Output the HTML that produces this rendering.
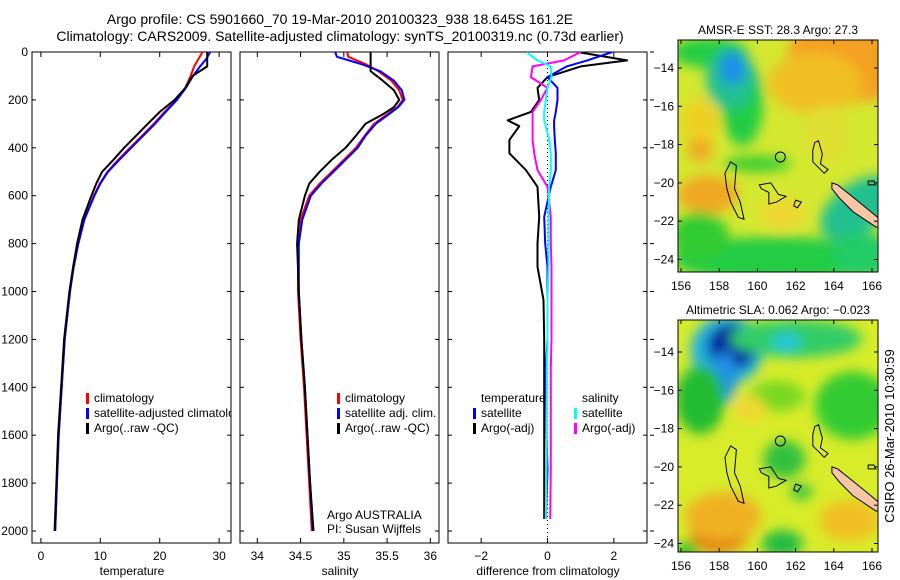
<!DOCTYPE html>
<html><head><meta charset="utf-8"><style>
html,body{margin:0;padding:0;background:#fff;}
svg{display:block;font-family:"Liberation Sans",sans-serif;}
</style></head><body>
<svg id="fig" width="900" height="580" viewBox="0 0 900 580" xmlns="http://www.w3.org/2000/svg">
<defs>
<clipPath id="c1"><rect x="32" y="52" width="199" height="491"/></clipPath>
<clipPath id="c2"><rect x="240" y="52" width="199" height="491"/></clipPath>
<clipPath id="c3"><rect x="448" y="52" width="199" height="491"/></clipPath>
<clipPath id="m1"><rect x="678" y="40" width="200" height="232"/></clipPath>
<clipPath id="m2"><rect x="678" y="320" width="200" height="232"/></clipPath>
<filter id="bl" x="-50%" y="-50%" width="200%" height="200%"><feGaussianBlur stdDeviation="6"/></filter>
</defs>
<text x="340" y="24" font-size="14" text-anchor="middle">Argo profile: CS 5901660_70 19-Mar-2010 20100323_938 18.645S 161.2E</text>
<text x="340" y="41" font-size="14" text-anchor="middle">Climatology: CARS2009. Satellite-adjusted climatology: synTS_20100319.nc (0.73d earlier)</text>
<g id="plots"></g>
<g id="maps"></g>
<text transform="translate(894,436) rotate(-90)" font-size="13" text-anchor="middle">CSIRO 26-Mar-2010 10:30:59</text>
</svg>
<script>
// ---- data ----
const tDepth = [0,30,60,100,150,200,250,300,350,400,450,500,550,600,700,800,900,1000,1200,1400,1600,1800,2000];
const tClim  = [27.2,26.5,25.8,25.2,24.3,22.8,20.8,19.0,17.0,15.0,13.0,11.2,9.9,8.9,7.3,6.3,5.5,4.9,4.0,3.5,3.0,2.7,2.4];
const tSat   = [28.5,27.8,26.8,25.6,24.4,22.9,21.0,19.2,17.2,15.2,13.2,11.3,10.0,9.0,7.3,6.3,5.5,4.9,4.0,3.5,3.0,2.7,2.4];
const tArgo  = [28.0,28.0,28.0,25.5,24.3,22.5,20.0,18.0,16.0,14.0,12.2,10.3,9.3,8.5,7.0,6.1,5.4,4.8,3.9,3.4,2.9,2.6,2.3];
const sDepth = [0,20,50,80,120,160,200,230,260,300,350,400,450,500,550,600,700,800,1000,1200,1400,1600,1800,2000];
const sClim  = [35.04,35.05,35.25,35.40,35.55,35.64,35.68,35.62,35.50,35.35,35.24,35.14,35.00,34.86,34.72,34.60,34.50,34.47,34.47,34.50,34.54,34.57,34.60,34.63];
const sSat   = [34.90,34.92,35.20,35.42,35.58,35.67,35.70,35.63,35.52,35.37,35.25,35.16,35.02,34.88,34.74,34.62,34.52,34.48,34.48,34.51,34.55,34.58,34.61,34.64];
const sArgo  = [35.31,35.31,35.31,35.31,35.45,35.58,35.64,35.58,35.45,35.25,35.14,35.02,34.86,34.72,34.60,34.55,34.48,34.46,34.48,34.51,34.55,34.58,34.61,34.65];
const dDepth  = [0,35,60,105,150,200,250,285,310,367,423,493,563,688,800,897,1035,1200,1315,1590,1745,1950];
const dTsat   = [1.95,1.2,0.58,0.0,0.3,0.3,0.25,0.2,0.2,0.22,0.25,0.25,0.1,-0.1,-0.07,0.0,0.0,0.0,-0.05,-0.03,0.0,-0.05];
const dTargo  = [0.9,2.4,1.0,0.0,-0.3,-0.25,-0.5,-1.2,-0.85,-1.15,-1.15,-0.65,-0.3,-0.25,-0.3,-0.3,-0.12,-0.1,-0.1,-0.1,-0.1,-0.1];
const dSsat   = [-0.63,-0.3,0.1,0.12,0.0,-0.05,-0.1,-0.1,-0.05,0.05,0.1,0.1,0.05,0.03,0.03,0.03,0.0,0.0,-0.02,-0.02,-0.03,-0.05];
const dSargo  = [1.0,0.5,-0.45,-0.5,0.0,-0.2,-0.45,-0.45,-0.45,-0.45,-0.4,-0.3,0.0,0.1,0.1,0.12,0.12,0.12,0.1,0.1,0.1,0.08];
const depthTicks = [0,200,400,600,800,1000,1200,1400,1600,1800,2000];
const tTicks = [0,10,20,30];
const sTicks = [34,34.5,35,35.5,36];
const dTicks = [-2,0,2];
const latTicks = [-14,-16,-18,-20,-22,-24];
const lonTicks = [156,158,160,162,164,166];

const NS='http://www.w3.org/2000/svg';
const fig=document.getElementById('plots');
function mk(tag,attrs,parent){const e=document.createElementNS(NS,tag);for(const k in attrs)e.setAttribute(k,attrs[k]);(parent||fig).appendChild(e);return e;}
const yD = d => 52 + d*0.2395;
const panels=[
 {x0:32,xmin:-1.5,xmax:32,ticks:tTicks,label:'temperature',clip:'c1',name:'temperature-panel'},
 {x0:240,xmin:33.8,xmax:36.1,ticks:sTicks,label:'salinity',clip:'c2',name:'salinity-panel'},
 {x0:448,xmin:-3,xmax:3,ticks:dTicks,label:'difference from climatology',clip:'c3',name:'difference-panel'}];
panels.forEach((p,i)=>{
  p.sx = v => p.x0 + (v-p.xmin)/(p.xmax-p.xmin)*199;
  const g=mk('g',{});
  
  
  mk('rect',{x:p.x0,y:52,width:199,height:491,fill:'#fff',stroke:'#000','stroke-width':1},g);
  p.ticks.forEach(t=>{
    const x=p.sx(t);
    mk('line',{x1:x,x2:x,y1:543,y2:538,stroke:'#000'},g);
    mk('line',{x1:x,x2:x,y1:52,y2:57,stroke:'#000'},g);
    const tx=mk('text',{x:x,y:560,'font-size':12,'text-anchor':'middle'},g);
    tx.textContent = (i==1 && t%1!==0)? t.toFixed(1): String(t).replace('-','−');
    
    
  });
  depthTicks.forEach(d=>{
    const y=yD(d);
    mk('line',{x1:p.x0,x2:p.x0+4,y1:y,y2:y,stroke:'#000'},g);
    mk('line',{x1:p.x0+199,x2:p.x0+195,y1:y,y2:y,stroke:'#000'},g);
    if(i==2) mk('line',{x1:p.x0+202,x2:p.x0+206,y1:y,y2:y,stroke:'#000'},g);
  });
  const xl=mk('text',{x:p.x0+100,y:575,'font-size':12,'text-anchor':'middle'},g);
  xl.textContent=p.label;
  
  
});
depthTicks.forEach(d=>{
  const t=mk('text',{x:28,y:yD(d)+4,'font-size':12,'text-anchor':'end'});
  t.textContent=d;
  
  
});
function line(p,depths,vals,color,w,name){
  const pts=depths.map((d,k)=>p.sx(vals[k]).toFixed(1)+','+yD(d).toFixed(1)).join(' ');
  const e=mk('polyline',{points:pts,fill:'none',stroke:color,'stroke-width':w,'clip-path':'url(#'+p.clip+')','stroke-linejoin':'round'});
  
  
}
const [P1,P2,P3]=panels;
line(P1,tDepth,tClim,'#f00',2,'temp-climatology-line');
line(P1,tDepth,tSat,'#00f',2,'temp-satellite-line');
line(P1,tDepth,tArgo,'#000',2,'temp-argo-line');
line(P2,sDepth,sClim,'#f00',2,'sal-climatology-line');
line(P2,sDepth,sSat,'#00f',2,'sal-satellite-line');
line(P2,sDepth,sArgo,'#000',2,'sal-argo-line');
const zl=mk('line',{x1:P3.sx(0),x2:P3.sx(0),y1:52,y2:543,stroke:'#000','stroke-dasharray':'1,3'});


line(P3,dDepth,dTargo,'#000',2,'diff-temp-argo-line');
line(P3,dDepth,dTsat,'#00f',2,'diff-temp-satellite-line');
line(P3,dDepth,dSargo,'#f0f',2,'diff-sal-argo-line');
line(P3,dDepth,dSsat,'#0ff',2,'diff-sal-satellite-line');
function leg(x,y,color,text,clip,name){
  if(color) mk('rect',{x:x,y:y-9,width:3,height:11,fill:color});
  const t=mk('text',{x:x+8,y:y,'font-size':12,'clip-path':clip?'url(#'+clip+')':''});
  t.textContent=text;
  
  
}
leg(86,402,'#f00','climatology','c1','legend-entry');
leg(86,417,'#00f','satellite-adjusted climatology','c1','legend-entry');
leg(86,432,'#000','Argo(..raw -QC)','c1','legend-entry');
leg(337,402,'#f00','climatology','c2','legend-entry');
leg(337,417,'#00f','satellite adj. clim.','c2','legend-entry');
leg(337,432,'#000','Argo(..raw -QC)','c2','legend-entry');
leg(473,402,null,'temperature','c3','legend-title');
leg(473,417,'#00f','satellite','c3','legend-entry');
leg(473,432,'#000','Argo(-adj)','c3','legend-entry');
leg(574,402,null,'salinity','c3','legend-title');
leg(574,417,'#0ff','satellite','c3','legend-entry');
leg(574,432,'#f0f','Argo(-adj)','c3','legend-entry');
const a1=mk('text',{x:327,y:519,'font-size':12});a1.textContent='Argo AUSTRALIA';


const a2=mk('text',{x:327,y:533,'font-size':12});a2.textContent='PI: Susan Wijffels';



// ---- maps ----
const mg=document.getElementById('maps');
function map(top,title,blobs,base,clip,name,lat14y){
  const g=mk('g',{},mg);
  
  
  const lx = lon => 681 + (lon-156)*19.1;
  const ly = lat => lat14y + (-14-lat)*19.15;
  const t=mk('text',{x:778,y:top-6,'font-size':12,'text-anchor':'middle'},g);t.textContent=title;
  
  
  const inner=mk('g',{'clip-path':'url(#'+clip+')'},g);
  mk('rect',{x:670,y:top-8,width:216,height:248,fill:base},inner);
  const bg=mk('g',{filter:'url(#bl)'},inner);
  blobs.forEach(b=>mk('ellipse',{cx:lx(b[0]),cy:ly(b[1]),rx:b[2]*19,ry:b[3]*19,fill:b[4],transform:b[5]?`rotate(${b[5]} ${lx(b[0])} ${ly(b[1])})`:''},bg));
  const isl=[[[158.3,-19.5],[158.6,-18.9],[158.9,-19.1],[158.8,-20.3],[159.1,-21.0],[159.3,-21.9],[159.0,-21.8],[158.6,-21.0],[158.4,-20.3]],
             [[160.1,-20.1],[160.7,-20.0],[161.1,-20.6],[161.5,-20.7],[161.0,-21.0],[160.6,-21.1],[160.6,-20.5],[160.2,-20.3]],
             [[162.0,-20.9],[162.3,-21.0],[162.1,-21.3],[161.9,-21.2]],
             [[163.0,-17.9],[163.2,-17.8],[163.4,-18.5],[163.3,-19.0],[163.7,-19.3],[163.5,-19.5],[162.9,-18.9],[162.9,-18.3]],
             [[165.8,-19.9],[166.1,-19.9],[166.2,-20.1],[165.8,-20.1]]];
  isl.forEach(s=>mk('polygon',{points:s.map(q=>lx(q[0])+','+ly(q[1])).join(' '),fill:'none',stroke:'#000','stroke-width':1},inner));
  const nc=[[163.9,-20.0],[164.2,-20.1],[165.2,-20.9],[166.3,-21.8],[166.5,-22.3],[166.2,-22.3],[165.0,-21.5],[164.3,-20.8],[163.9,-20.3]];
  const ncp=mk('polygon',{points:nc.map(q=>lx(q[0])+','+ly(q[1])).join(' '),fill:'#f5c6a5',stroke:'#000','stroke-width':1},inner);
  
  
  const pt=mk('circle',{cx:lx(161.2),cy:ly(-18.645),r:5,fill:'none',stroke:'#000','stroke-width':1},inner);
  
  
  mk('rect',{x:678,y:top,width:200,height:232,fill:'none',stroke:'#000'},g);
  latTicks.forEach(l=>{
    const y=ly(l);
    mk('line',{x1:678,x2:682,y1:y,y2:y,stroke:'#000'},g);
    mk('line',{x1:878,x2:874,y1:y,y2:y,stroke:'#000'},g);
    const tx=mk('text',{x:674,y:y+4,'font-size':12,'text-anchor':'end'},g);tx.textContent=String(l).replace('-','−');
    
    
  });
  lonTicks.forEach(l=>{
    const x=lx(l);
    mk('line',{x1:x,x2:x,y1:top+232,y2:top+228,stroke:'#000'},g);
    mk('line',{x1:x,x2:x,y1:top,y2:top+4,stroke:'#000'},g);
    const tx=mk('text',{x:x,y:top+250,'font-size':12,'text-anchor':'middle'},g);tx.textContent=l;
    
    
  });
}
map(40,'AMSR-E SST: 28.3 Argo: 27.3',[
 [165,-13.5,3.5,2.3,'#f4a020'],[163,-14.8,2.5,1.6,'#f0c020'],
 [157.5,-13.2,2,0.8,'#22cc44'],[159.2,-15.8,1.1,2.3,'#22cc44'],[158.6,-14.6,1.3,1.6,'#22c090'],[158.7,-14.0,0.7,0.9,'#1a90e8'],
 [157,-16.8,1,1.2,'#eed020'],[157.4,-20.6,1.6,1.0,'#f0a820'],[157,-18.3,0.7,0.6,'#f0a820'],
 [160,-19.0,1.8,0.4,'#33cc33'],[161,-24.0,5.5,1.2,'#22cc44'],[157,-22.8,1.5,1.3,'#33cc33'],
 [165.3,-21.3,2.3,1.3,'#22c090',-35],[165.5,-23.8,1.6,1.2,'#22cc66'],[161.3,-21.6,1.2,0.8,'#f0d830'],[163.6,-17.5,1.2,1.5,'#e0e030']
],'#d4e830','m1','sst-map',68);
map(320,'Altimetric SLA: 0.062 Argo: −0.023',[
 [158.4,-13.9,1.9,1.8,'#22b0e0'],[158.7,-13.7,1.3,1.2,'#000a99'],[158.3,-15.3,0.6,1.4,'#2090e8'],
 [162,-13.3,3.5,1.0,'#33cc66'],[161.5,-13.5,0.8,0.5,'#22c8d8'],[157,-16.5,1.3,1.8,'#22bb33'],
 [165,-16.8,2,1.8,'#33cc33'],[161,-16.3,1.5,0.8,'#77d822'],[161.4,-19.6,1.1,1.0,'#33c040'],[162.3,-21.3,0.6,0.4,'#33c040'],
 [158,-23.6,1.5,0.9,'#e07a10'],[158.2,-22.6,2,1.3,'#f0b020'],[161.3,-24.0,1.1,0.7,'#22bb44'],[164.8,-22.8,1.6,1.1,'#f0c020'],
 [159.6,-17.0,0.9,0.7,'#f0d830'],[156.3,-24.4,0.6,0.5,'#22c033']
],'#d8ec2a','m2','sla-map',352);
</script>
</body></html>
